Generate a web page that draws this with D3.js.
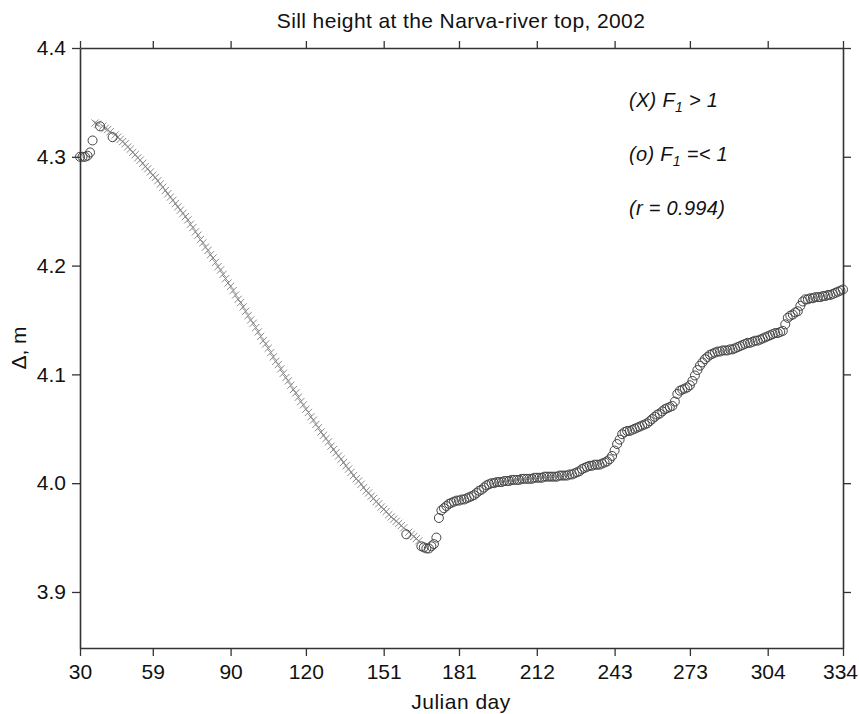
<!DOCTYPE html>
<html><head><meta charset="utf-8">
<script src="https://cdn.jsdelivr.net/npm/d3@7"></script>
<style>body{margin:0;background:#fff}</style>
</head><body>
<svg id="c" width="859" height="714"></svg>
<script>
const titleText = "Sill height at the Narva-river top, 2002";
const xLabel = "Julian day";
const yLabel = "Δ, m";
const xTicks = [30,59,90,120,151,181,212,243,273,304,334];
const yTicks = [3.9,4.0,4.1,4.2,4.3,4.4];

// (X) F1 > 1 : values for days 36..165 (null = that day is a circle)
const crossStartDay = 36;
const crossValues = [
4.331,4.330,null,4.328,4.326,4.325,4.323,null,4.320,4.318,
4.316,4.314,4.312,4.309,4.307,4.304,4.302,4.299,4.297,4.294,
4.291,4.289,4.286,4.283,4.281,4.278,4.275,4.272,4.269,4.266,
4.263,4.260,4.257,4.254,4.251,4.248,4.245,4.242,4.238,4.235,
4.231,4.228,4.224,4.221,4.217,4.214,4.210,4.207,4.203,4.199,
4.196,4.192,4.188,4.184,4.181,4.177,4.173,4.169,4.166,4.162,
4.158,4.154,4.150,4.147,4.143,4.139,4.135,4.131,4.128,4.124,
4.120,4.116,4.112,4.109,4.105,4.101,4.097,4.094,4.090,4.086,
4.083,4.079,4.075,4.072,4.068,4.065,4.061,4.058,4.054,4.051,
4.047,4.044,4.041,4.038,4.034,4.031,4.028,4.025,4.022,4.019,
4.016,4.013,4.010,4.007,4.004,4.002,3.999,3.996,3.993,3.991,
3.988,3.986,3.983,3.981,3.978,3.976,3.974,3.971,3.969,3.967,
3.965,3.963,3.961,3.959,null,3.955,3.953,3.951,3.949,3.947
];

// (o) F1 =< 1 : isolated early days
const circleEarlyDays = [30,31,32,33,34,35,38,43,160];
const circleEarlyValues = [4.300,4.300,4.300,4.301,4.304,4.315,4.328,4.318,3.953];
// (o) F1 =< 1 : daily values for days 166..334
const circleStartDay = 166;
const circleValues = [
3.942,3.941,3.940,3.940,3.942,3.944,3.950,3.968,3.975,3.977,
3.979,3.981,3.982,3.983,3.984,3.984,3.985,3.985,3.986,3.987,
3.988,3.989,3.991,3.993,3.994,3.996,3.998,3.999,4.000,4.000,
4.001,4.001,4.001,4.002,4.002,4.002,4.003,4.003,4.003,4.003,
4.004,4.004,4.004,4.004,4.004,4.005,4.005,4.005,4.005,4.006,
4.006,4.006,4.006,4.006,4.006,4.007,4.007,4.007,4.007,4.008,
4.008,4.009,4.010,4.011,4.013,4.014,4.015,4.016,4.016,4.017,
4.017,4.017,4.018,4.019,4.020,4.022,4.025,4.030,4.036,4.040,
4.045,4.047,4.048,4.048,4.049,4.050,4.051,4.052,4.053,4.054,
4.055,4.057,4.059,4.061,4.063,4.064,4.066,4.068,4.069,4.070,
4.071,4.075,4.082,4.085,4.086,4.087,4.088,4.090,4.094,4.099,
4.104,4.108,4.111,4.114,4.116,4.118,4.119,4.120,4.121,4.121,
4.122,4.122,4.122,4.123,4.123,4.124,4.125,4.126,4.127,4.128,
4.129,4.129,4.130,4.131,4.131,4.132,4.133,4.134,4.135,4.136,
4.137,4.138,4.138,4.139,4.140,4.146,4.152,4.154,4.155,4.157,
4.158,4.163,4.167,4.169,4.169,4.170,4.170,4.171,4.171,4.171,
4.172,4.172,4.173,4.173,4.174,4.175,4.176,4.177,4.178
];

const legendLines = [
  {pre:"(X) F", sub:"1", post:" > 1"},
  {pre:"(o) F", sub:"1", post:" =< 1"},
  {pre:"(r = 0.994)", sub:"", post:""}
];

const svg = d3.select("#c");
const L = 80, R = 843, T = 48, B = 648;
const x = d3.scaleLinear().domain([30,334]).range([L,R]);
const y = d3.scaleLinear().domain([3.8485,4.4]).range([B,T]);
const font = "'Liberation Sans', Arial, Helvetica, sans-serif";
const axisColor = "#333";

const crosses = crossValues.map((v,i)=>({d:crossStartDay+i,v})).filter(p=>p.v!==null);
const circles = circleEarlyDays.map((d,i)=>({d,v:circleEarlyValues[i]}))
  .concat(circleValues.map((v,i)=>({d:circleStartDay+i,v})));

// markers
const plot = svg.append("g");
plot.selectAll("path.x").data(crosses).join("path")
  .attr("class","x")
  .attr("transform",d=>`translate(${x(d.d)},${y(d.v)})`)
  .attr("d","M-3.6,-3.6L3.6,3.6M-3.6,3.6L3.6,-3.6")
  .attr("stroke","#8a8a8a").attr("stroke-width",1).attr("fill","none");
plot.selectAll("circle").data(circles).join("circle")
  .attr("cx",d=>x(d.d)).attr("cy",d=>y(d.v)).attr("r",4.5)
  .attr("fill","none").attr("stroke","#444").attr("stroke-width",1);

// axes
function styleAxis(g, showLabels){
  g.select(".domain").attr("stroke",axisColor).attr("stroke-width",1.6);
  g.selectAll(".tick line").attr("stroke",axisColor).attr("stroke-width",1.3);
  g.selectAll(".tick text").attr("fill","#111").style("font-family",font).style("font-size","21px");
  if(!showLabels) g.selectAll(".tick text").remove();
}
const xb = svg.append("g").attr("transform",`translate(0,${B})`)
  .call(d3.axisBottom(x).tickValues(xTicks).tickSize(8).tickSizeOuter(0).tickPadding(8).tickFormat(d3.format("d")));
styleAxis(xb,true);
xb.selectAll(".tick text").filter(d=>d===334).attr("dx",-3);
const xt = svg.append("g").attr("transform",`translate(0,${T})`)
  .call(d3.axisTop(x).tickValues(xTicks).tickSize(7).tickSizeOuter(0));
styleAxis(xt,false);
const yl = svg.append("g").attr("transform",`translate(${L},0)`)
  .call(d3.axisLeft(y).tickValues(yTicks).tickSize(8).tickSizeOuter(0).tickPadding(6).tickFormat(d3.format(".1f")));
styleAxis(yl,true);
const yr = svg.append("g").attr("transform",`translate(${R},0)`)
  .call(d3.axisRight(y).tickValues(yTicks).tickSize(8).tickSizeOuter(0));
styleAxis(yr,false);

// title & labels
svg.append("text").attr("x",461).attr("y",28).attr("text-anchor","middle")
  .style("font-family",font).style("font-size","21px").style("letter-spacing","0.4px")
  .attr("fill","#111").text(titleText);
svg.append("text").attr("x",461).attr("y",709).attr("text-anchor","middle")
  .style("font-family",font).style("font-size","21px").style("letter-spacing","0.5px")
  .attr("fill","#111").text(xLabel);
svg.append("text").attr("transform",`translate(26,${(T+B)/2}) rotate(-90)`).attr("text-anchor","middle")
  .style("font-family",font).style("font-size","21px").attr("fill","#111").text(yLabel);

// legend text
const lg = svg.append("g");
legendLines.forEach((l,i)=>{
  const t = lg.append("text").attr("x",629).attr("y",107+i*54)
    .style("font-family",font).style("font-size","20px").style("font-style","italic")
    .style("letter-spacing","0.3px").attr("fill","#111");
  t.append("tspan").text(l.pre);
  if(l.sub){
    t.append("tspan").attr("dy",5).style("font-size","14px").text(l.sub);
    t.append("tspan").attr("dy",-5).text(l.post);
  }
});
</script>
</body></html>
